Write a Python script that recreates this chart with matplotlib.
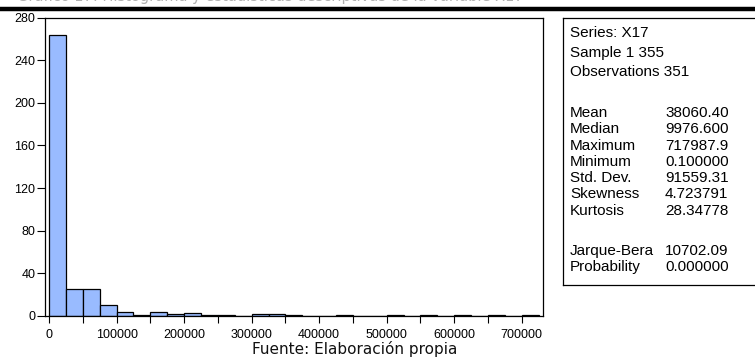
import matplotlib
matplotlib.use("Agg")
import matplotlib.pyplot as plt
import numpy as np

# histogram of X17, bins of 25000 (counts)
bin_edges = np.arange(0, 750000, 25000)
counts = [264, 25, 25, 10, 4, 1, 4, 2, 3, 1, 1, 0, 2, 2, 1, 0, 0, 1, 0, 0,
          1, 0, 1, 0, 1, 0, 1, 0, 1]

x_ticks = [0, 100000, 200000, 300000, 400000, 500000, 600000, 700000]
y_ticks = [0, 40, 80, 120, 160, 200, 240, 280]

stats_header = ["Series: X17", "Sample 1 355", "Observations 351"]
stats_names = ["Mean", "Median", "Maximum", "Minimum", "Std. Dev.", "Skewness", "Kurtosis"]
stats_values = ["38060.40", "9976.600", "717987.9", "0.100000", "91559.31", "4.723791", "28.34778"]
test_names = ["Jarque-Bera", "Probability"]
test_values = ["10702.09", "0.000000"]

W, H = 755, 363
fig = plt.figure(figsize=(W / 100, H / 100), dpi=100)
plt.rcParams['font.family'] = ['Liberation Sans', 'DejaVu Sans']

# caption of the page above, cut by the top edge, and the rule under it
fig.text(270 / W, 1 - 1.5 / H, "Gráfico 17: Histograma y estadísticas descriptivas de la variable X17",
         ha='center', va='baseline', fontsize=10.5, color='#b0b0b0', family='DejaVu Sans')
fig.add_artist(plt.Line2D([0, 1], [1 - 9 / H, 1 - 9 / H], color='black', lw=3.2))

ax = fig.add_axes([45 / W, 1 - 316 / H, (543 - 45) / W, (316 - 17.5) / H])
ax.bar(bin_edges[:-1], counts, width=25000, align='edge',
       color='#99bbff', edgecolor='black', linewidth=0.9)
ax.set_xlim(-6000, 731500)
ax.set_ylim(0, 280)
ax.set_xticks(x_ticks)
ax.set_xticklabels([str(v) for v in x_ticks])
ax.set_xticks(np.arange(0, 750000, 50000), minor=True)
ax.set_yticks(y_ticks)
ax.tick_params(axis='both', which='both', direction='out', labelsize=9, width=0.8)
ax.tick_params(axis='x', which='both', length=5, pad=4)
ax.tick_params(axis='y', length=6, pad=1)
for s in ax.spines.values():
    s.set_linewidth(0.9)

# descriptive statistics box (runs past the right edge)
top, bottom = 17.5, 285
bx = fig.add_axes([563 / W, 1 - bottom / H, 200 / W, (bottom - top) / H])
bx.set_xlim(563, 763)
bx.set_ylim(bottom, top)
bx.set_xticks([])
bx.set_yticks([])
for s in bx.spines.values():
    s.set_linewidth(0.9)
fs = 11
step = 16.3
for i, t in enumerate(stats_header):
    bx.text(570, 33 + i * 19.5, t, fontsize=fs, va='center')
for i, (n, v) in enumerate(zip(stats_names, stats_values)):
    bx.text(570, 113 + i * step, n, fontsize=fs, va='center')
    bx.text(665, 113 + i * step, v, fontsize=fs, va='center')
for i, (n, v) in enumerate(zip(test_names, test_values)):
    bx.text(570, 251 + i * step, n, fontsize=fs, va='center')
    bx.text(665, 251 + i * step, v, fontsize=fs, va='center')

fig.text(355 / W, 1 - 349 / H, "Fuente: Elaboración propia", ha='center', va='center',
         fontsize=11, family='DejaVu Sans', color='#111111')

fig.savefig("out.png", dpi=100)
